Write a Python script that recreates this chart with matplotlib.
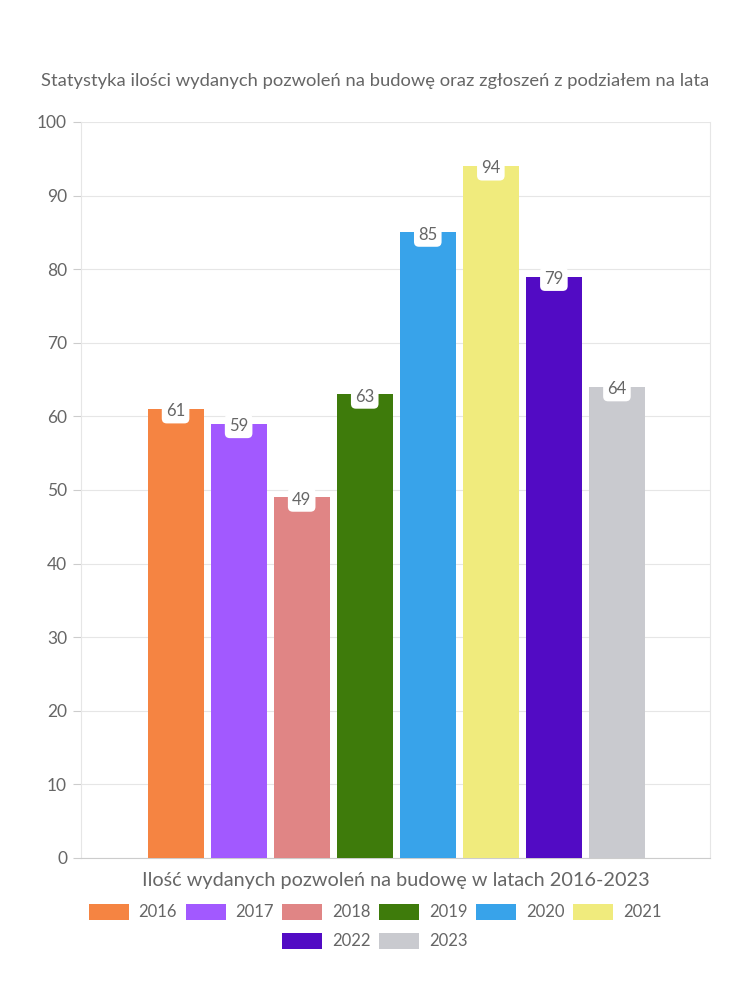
import matplotlib
matplotlib.use("Agg")
import matplotlib.pyplot as plt
from matplotlib.patches import Patch

years = ["2016", "2017", "2018", "2019", "2020", "2021", "2022", "2023"]
values = [61, 59, 49, 63, 85, 94, 79, 64]
colors = ["#F58442", "#A259FF", "#E08585", "#3E7B0B", "#38A3EA", "#F0EB7D", "#520BC4", "#C9CACF"]
title = "Statystyka ilości wydanych pozwoleń na budowę oraz zgłoszeń z podziałem na lata"
xlabel = "Ilość wydanych pozwoleń na budowę w latach 2016-2023"
yticks = list(range(0, 101, 10))

plt.rcParams['font.family'] = ['Lato', 'DejaVu Sans']
txt = "#666666"

fig = plt.figure(figsize=(7.5, 10), dpi=100)
ax = fig.add_axes([0.108, 0.142, 0.839, 0.736])

pos = list(range(len(years)))
bars = ax.bar(pos, values, width=0.89, color=colors, zorder=3)
for p, v in zip(pos, values):
    ax.text(p, v - 0.3, str(v), ha='center', va='center', fontsize=12, color=txt, zorder=5,
            bbox=dict(boxstyle='round,pad=0.25,rounding_size=0.3', fc='white', ec='none'))

ax.set_xlim(-1.5, 8.48)
ax.set_ylim(0, 100)
ax.set_yticks(yticks)
ax.set_yticklabels([str(t) for t in yticks], fontsize=12.5, color=txt)
ax.set_xticks([])
ax.yaxis.grid(True, color='#e6e6e6', linewidth=0.8, zorder=0)
for s in ['left', 'right', 'top']:
    ax.spines[s].set_color('#e6e6e6')
    ax.spines[s].set_linewidth(0.8)
ax.spines['top'].set_visible(False)
ax.spines['bottom'].set_color('#cccccc')
ax.tick_params(axis='y', length=6, color='#cccccc', pad=4)
ax.set_xlabel(xlabel, fontsize=14.3, color=txt, labelpad=10)

fig.text(0.5, 0.919, title, ha='center', va='center', fontsize=13.2, color=txt)

h1 = [Patch(facecolor=c, edgecolor='none') for c in colors[:6]]
h2 = [Patch(facecolor=c, edgecolor='none') for c in colors[6:]]
kw = dict(frameon=False, handlelength=2.4, handleheight=1.1, handletextpad=0.6,
          columnspacing=0.5, prop={'size': 12}, labelcolor=txt)
fig.legend(h1, years[:6], loc='center', bbox_to_anchor=(0.5, 0.088), ncol=6, **kw)
fig.legend(h2, years[6:], loc='center', bbox_to_anchor=(0.5, 0.059), ncol=2, **kw)

fig.savefig("out.png", dpi=100, facecolor='white')
